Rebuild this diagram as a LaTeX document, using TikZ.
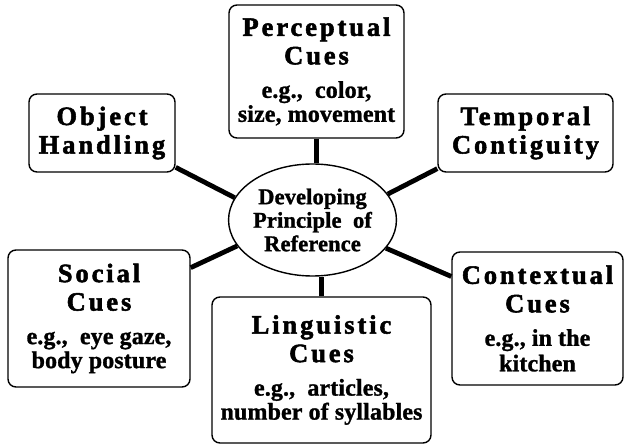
\documentclass[tikz,border=0pt]{standalone}
\usepackage{fontspec}
\setmainfont{Liberation Serif}
\newfontfamily\headfont[LetterSpace=11,BoldFeatures={FakeBold=2}]{Liberation Serif}
\newfontfamily\bodyfont[LetterSpace=0.5,BoldFeatures={FakeBold=1.2}]{Liberation Serif}
\usetikzlibrary{shapes.geometric}

\tikzset{
  cue/.style={draw,line width=1.4pt,rounded corners=8pt,align=center,inner sep=0pt,
    font=\headfont\bfseries\fontsize{26.5}{28.5}\selectfont},
  hub/.style={draw,ellipse,line width=1.4pt,inner sep=0pt,align=center,
    minimum width=161pt,minimum height=112pt,
    font=\bodyfont\bfseries\fontsize{22.5}{23.5}\selectfont},
  link/.style={line width=4.8pt}
}
\newcommand\eg[1]{{\bodyfont\bfseries\fontsize{24}{24}\selectfont #1}}

\begin{document}
\begin{tikzpicture}[x=1pt,y=1pt]
        \useasboundingbox (0,0) rectangle (624,445);
        % centre
        \node[hub] (dev) at (312.5,225) {Developing\\Principle~ of\\Reference};
        % cue boxes
        \node[cue,minimum width=175pt,minimum height=133pt] (perc) at (316.5,373.5)
            {Perceptual\\Cues\\[5pt]\eg{e.g.,~ color,}\\[-4.5pt]\eg{size, movement}};
        \node[cue,minimum width=146pt,minimum height=78pt] (obj) at (102,312) {Object\\Handling};
        \node[cue,minimum width=175pt,minimum height=78pt] (temp) at (525.5,312) {Temporal\\Contiguity};
        \node[cue,minimum width=182pt,minimum height=137pt] (soc) at (99,126.5)
            {Social\\Cues\\[5pt]\eg{e.g.,~ eye gaze,}\\[-4.5pt]\eg{body posture}};
        \node[cue,minimum width=219pt,minimum height=146pt] (ling) at (321.5,75)
            {Linguistic\\Cues\\[5pt]\eg{e.g.,~ articles,}\\[-4.5pt]\eg{number of syllables}};
        \node[cue,minimum width=171pt,minimum height=133pt] (ctx) at (537.5,126.5)
            {Contextual\\Cues\\[5pt]\eg{e.g., in the}\\[-3pt]\eg{kitchen}};
        % spokes
        \draw[link] (perc.south) -- (perc.south |- dev.north);
        \draw[link] (ling.north) -- (ling.north |- dev.south);
        \draw[link] (dev.164.5) -- (obj.-25.6);
        \draw[link] (dev.19.4) -- (temp.202.3);
        \draw[link] (dev.199.5) -- (soc.29);
        \draw[link] (dev.-21.7) -- (ctx.154.8);
    \end{tikzpicture}
\end{document}
